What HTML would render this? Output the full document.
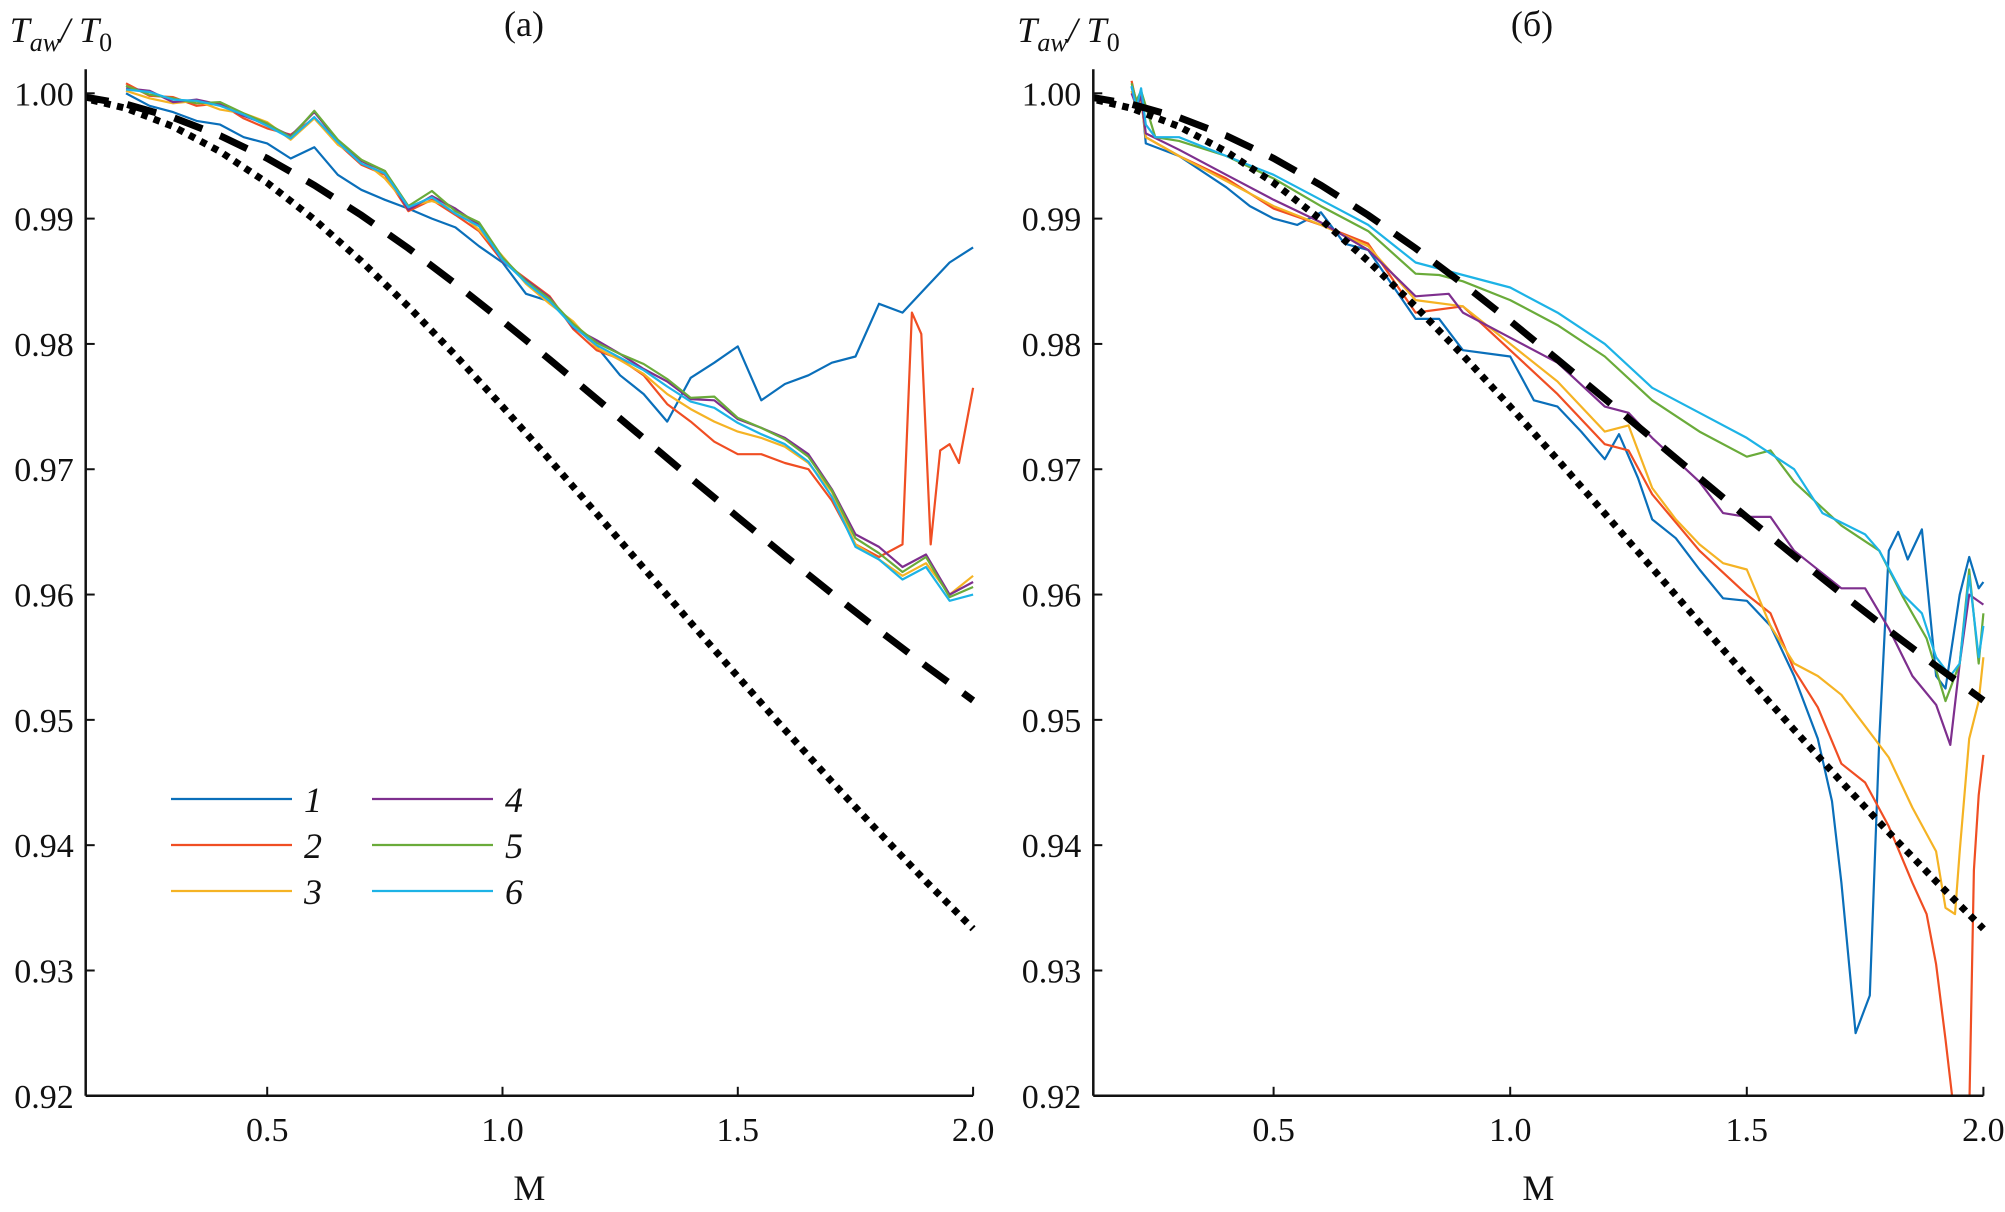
<!DOCTYPE html>
<html><head><meta charset="utf-8"><style>
html,body{margin:0;padding:0;background:#fff;}
svg{display:block;font-family:"Liberation Serif",serif;}
svg text{font-family:"Liberation Serif",serif;fill:#111;}
</style></head><body>
<svg id="chart" width="2005" height="1212" viewBox="0 0 2005 1212" font-family="Liberation Serif, serif" xmlns="http://www.w3.org/2000/svg"></svg>
<script>
// ---------- data ----------
const yTicks = [1.00,0.99,0.98,0.97,0.96,0.95,0.94,0.93,0.92];
const yTickLabels = ["1.00","0.99","0.98","0.97","0.96","0.95","0.94","0.93","0.92"];
const xTicks = [0.5,1.0,1.5,2.0];
const xTickLabels = ["0.5","1.0","1.5","2.0"];
const seriesNames = ["1","2","3","4","5","6"];
const seriesColors = ["#0a6fba","#f04e23","#f5b324","#7e2f8e","#6aab3a","#1db3e6"];

const theoryM = [0.1,0.2,0.3,0.4,0.5,0.6,0.7,0.8,0.9,1.0,1.1,1.2,1.3,1.4,1.5,1.6,1.7,1.8,1.9,2.0];
const dottedVals = [0.9997,0.9988,0.99735,0.99535,0.99286,0.98993,0.98661,0.98298,0.97909,0.975,0.97077,0.96646,0.96211,0.95776,0.95345,0.94921,0.94506,0.94102,0.93711,0.93333];
const dashedVals = [0.99978,0.99913,0.99807,0.99662,0.99481,0.99267,0.99027,0.98763,0.9848,0.98183,0.97876,0.97562,0.97246,0.9693,0.96617,0.96309,0.96008,0.95714,0.9543,0.95155];

// panel (a)
const aM = [0.20,0.25,0.30,0.35,0.40,0.45,0.50,0.55,0.60,0.65,0.70,0.75,0.80,0.85,0.90,0.95,1.00,1.05,1.10,1.15,1.20,1.25,1.30,1.35,1.40,1.45,1.50,1.55,1.60,1.65,1.70,1.75,1.80,1.85,1.90,1.95,2.00];
const a1 = [1.0000,0.9990,0.9985,0.9978,0.9975,0.9965,0.9960,0.9948,0.9957,0.9935,0.9923,0.9915,0.9908,0.9900,0.9893,0.9878,0.9865,0.9840,0.9834,0.9815,0.9798,0.9775,0.9760,0.9738,0.9773,0.9785,0.9798,0.9755,0.9768,0.9775,0.9785,0.9790,0.9832,0.9825,0.9845,0.9865,0.9877];
const a2M = [0.20,0.25,0.30,0.35,0.40,0.45,0.50,0.55,0.60,0.65,0.70,0.75,0.80,0.85,0.90,0.95,1.00,1.05,1.10,1.15,1.20,1.25,1.30,1.35,1.40,1.45,1.50,1.55,1.60,1.65,1.70,1.75,1.80,1.85,1.87,1.89,1.91,1.93,1.95,1.97,2.00];
const a2 = [1.0008,0.9998,0.9997,0.9990,0.9992,0.9980,0.9972,0.9967,0.9980,0.9960,0.9943,0.9935,0.9906,0.9915,0.9903,0.9890,0.9866,0.9852,0.9838,0.9812,0.9795,0.9788,0.9775,0.9752,0.9738,0.9722,0.9712,0.9712,0.9705,0.9700,0.9675,0.9640,0.9630,0.9640,0.9825,0.9808,0.9640,0.9715,0.9720,0.9705,0.9765];
const a3 = [1.0002,0.9996,0.9992,0.9994,0.9987,0.9984,0.9977,0.9963,0.9980,0.9959,0.9947,0.9932,0.9910,0.9914,0.9908,0.9891,0.9870,0.9848,0.9832,0.9818,0.9797,0.9787,0.9776,0.9760,0.9748,0.9738,0.9730,0.9725,0.9718,0.9705,0.9682,0.9640,0.9628,0.9615,0.9625,0.9600,0.9615];
const a4 = [1.0004,1.0002,0.9993,0.9995,0.9991,0.9982,0.9975,0.9966,0.9985,0.9962,0.9946,0.9938,0.9907,0.9918,0.9908,0.9895,0.9866,0.9851,0.9837,0.9813,0.9803,0.9792,0.9780,0.9770,0.9756,0.9755,0.9740,0.9733,0.9725,0.9712,0.9684,0.9648,0.9638,0.9622,0.9632,0.9600,0.9610];
const a5 = [1.0006,0.9999,0.9996,0.9992,0.9993,0.9984,0.9976,0.9965,0.9986,0.9963,0.9947,0.9938,0.9910,0.9922,0.9906,0.9897,0.9869,0.9850,0.9836,0.9816,0.9801,0.9792,0.9784,0.9772,0.9757,0.9758,0.9741,0.9733,0.9724,0.9710,0.9683,0.9645,0.9633,0.9618,0.9630,0.9598,0.9606];
const a6 = [1.0003,1.0001,0.9995,0.9994,0.9990,0.9983,0.9974,0.9964,0.9981,0.9961,0.9944,0.9936,0.9909,0.9917,0.9904,0.9894,0.9867,0.9849,0.9834,0.9814,0.9799,0.9789,0.9779,0.9766,0.9754,0.9749,0.9737,0.9728,0.9720,0.9706,0.9678,0.9638,0.9628,0.9612,0.9622,0.9595,0.9600];

// panel (б)
const b1M = [0.20,0.21,0.22,0.23,0.30,0.40,0.45,0.50,0.55,0.60,0.65,0.70,0.80,0.85,0.90,1.00,1.05,1.10,1.15,1.20,1.23,1.27,1.30,1.35,1.40,1.45,1.50,1.55,1.60,1.65,1.68,1.70,1.73,1.76,1.78,1.80,1.82,1.84,1.87,1.90,1.92,1.95,1.97,1.99,2.00];
const b1 = [1.0005,0.9990,1.0000,0.9960,0.9950,0.9925,0.9910,0.9900,0.9895,0.9905,0.9880,0.9875,0.9820,0.9820,0.9795,0.9790,0.9755,0.9750,0.9730,0.9708,0.9728,0.9693,0.9660,0.9645,0.9620,0.9597,0.9595,0.9575,0.9535,0.9485,0.9435,0.9370,0.9250,0.9280,0.9485,0.9635,0.9650,0.9628,0.9652,0.9535,0.9525,0.9600,0.9630,0.9605,0.9610];
const b2M = [0.20,0.21,0.22,0.23,0.30,0.40,0.50,0.60,0.70,0.80,0.90,1.00,1.10,1.20,1.25,1.30,1.40,1.50,1.55,1.60,1.65,1.70,1.75,1.80,1.85,1.88,1.90,1.92,1.94,1.96,1.97,1.98,1.99,2.00];
const b2 = [1.0010,0.9992,0.9998,0.9965,0.9950,0.9932,0.9908,0.9895,0.9880,0.9825,0.9830,0.9795,0.9760,0.9720,0.9715,0.9680,0.9635,0.9600,0.9585,0.9540,0.9510,0.9465,0.9450,0.9415,0.9370,0.9345,0.9305,0.9245,0.9180,0.9150,0.9185,0.9380,0.9440,0.9472];
const b3M = [0.20,0.21,0.22,0.23,0.30,0.40,0.50,0.60,0.70,0.80,0.90,1.00,1.10,1.20,1.25,1.30,1.35,1.40,1.45,1.50,1.55,1.60,1.65,1.70,1.75,1.80,1.85,1.90,1.92,1.94,1.95,1.97,1.99,2.00];
const b3 = [1.0002,0.9988,0.9995,0.9965,0.9950,0.9930,0.9910,0.9895,0.9878,0.9835,0.9830,0.9800,0.9770,0.9730,0.9735,0.9685,0.9660,0.9640,0.9625,0.9620,0.9575,0.9545,0.9535,0.9520,0.9495,0.9470,0.9430,0.9395,0.9350,0.9345,0.9395,0.9485,0.9515,0.9550];
const b4M = [0.20,0.21,0.22,0.23,0.30,0.40,0.50,0.60,0.70,0.80,0.87,0.90,1.00,1.10,1.20,1.25,1.30,1.40,1.45,1.50,1.55,1.60,1.70,1.75,1.80,1.85,1.90,1.93,1.95,1.97,2.00];
const b4 = [1.0000,0.9990,0.9997,0.9968,0.9955,0.9935,0.9915,0.9897,0.9875,0.9838,0.9840,0.9825,0.9805,0.9785,0.9750,0.9745,0.9725,0.9690,0.9665,0.9662,0.9662,0.9635,0.9605,0.9605,0.9573,0.9535,0.9512,0.9480,0.9545,0.9600,0.9592];
const b5M = [0.20,0.21,0.22,0.25,0.30,0.40,0.50,0.60,0.70,0.80,0.85,0.90,1.00,1.10,1.20,1.30,1.40,1.50,1.55,1.60,1.70,1.78,1.83,1.88,1.92,1.95,1.97,1.99,2.00];
const b5 = [1.0008,0.9994,1.0002,0.9965,0.9962,0.9950,0.9932,0.9910,0.9890,0.9856,0.9855,0.9850,0.9835,0.9815,0.9790,0.9755,0.9730,0.9710,0.9715,0.9690,0.9655,0.9635,0.9598,0.9565,0.9515,0.9545,0.9620,0.9545,0.9585];
const b6M = [0.20,0.21,0.22,0.23,0.25,0.30,0.40,0.50,0.60,0.70,0.80,0.90,1.00,1.10,1.20,1.30,1.40,1.50,1.60,1.66,1.75,1.78,1.83,1.87,1.90,1.93,1.95,1.97,1.99,2.00];
const b6 = [1.0006,0.9988,1.0004,0.9975,0.9965,0.9965,0.9950,0.9935,0.9915,0.9895,0.9865,0.9855,0.9845,0.9825,0.9800,0.9765,0.9745,0.9725,0.9700,0.9665,0.9648,0.9635,0.9600,0.9585,0.9550,0.9535,0.9545,0.9615,0.9550,0.9575];

// ---------- drawing ----------
const NS = "http://www.w3.org/2000/svg";
const svg = document.getElementById("chart");
const FONT = "Liberation Serif, serif";
const yTop = 93.3, yBot = 1095.8, yMin = 0.92, yMax = 1.00;
function yScale(v){ return yBot - (v - yMin) / (yMax - yMin) * (yBot - yTop); }
function mk(tag, attrs, parent){
  const e = document.createElementNS(NS, tag);
  for (const k in attrs) e.setAttribute(k, attrs[k]);
  if (tag === "text") e.setAttribute("font-family", FONT);
  (parent || svg).appendChild(e);
  return e;
}
function panel(cfg){
  const g = mk("g", {});
  
  
  const x0 = cfg.x05 - (cfg.x10 - cfg.x05);
  const pxPer = (cfg.x10 - cfg.x05) / 0.5;
  const xScale = m => x0 + m * pxPer;
  const clip = "clip-" + cfg.name;
  const cp = mk("clipPath", {id: clip}, g);
  mk("rect", {x: cfg.axisX, y: yTop - 30, width: xScale(2.0) - cfg.axisX + 4, height: yBot - yTop + 30}, cp);
  const plot = mk("g", {"clip-path": "url(#" + clip + ")"}, g);

  const yAxis = mk("line", {x1: cfg.axisX, x2: cfg.axisX, y1: yTop - 24, y2: yBot, stroke: "#111", "stroke-width": 2.5}, g);
  
  
  const xAxis = mk("line", {x1: cfg.axisX, x2: xScale(2.0), y1: yBot, y2: yBot, stroke: "#111", "stroke-width": 2.5}, g);
  
  
  yTicks.forEach((t, i) => {
    const y = yScale(t);
    const tk = mk("line", {x1: cfg.axisX, x2: cfg.axisX + 9, y1: y, y2: y, stroke: "#111", "stroke-width": 2}, g);
    
    
    const lb = mk("text", {x: cfg.axisX - 12, y: y + 12, "text-anchor": "end", "font-size": 34}, g);
    lb.textContent = yTickLabels[i];
    
    
  });
  xTicks.forEach((t, i) => {
    const x = xScale(t);
    const tk = mk("line", {x1: x, x2: x, y1: yBot, y2: yBot - 9, stroke: "#111", "stroke-width": 2}, g);
    
    
    const lb = mk("text", {x: x, y: yBot + 45, "text-anchor": "middle", "font-size": 34}, g);
    lb.textContent = xTickLabels[i];
    
    
  });
  const xt = mk("text", {x: (cfg.axisX + xScale(2.0)) / 2, y: 1200, "text-anchor": "middle", "font-size": 36}, g);
  xt.textContent = "M";
  
  
  const yt = mk("text", {x: cfg.axisX - 76, y: 42, "font-size": 36, "font-style": "italic"}, g);
  yt.innerHTML = 'T<tspan font-size="26" dy="9">aw</tspan><tspan dy="-9">/ T</tspan><tspan font-size="26" dy="9" font-style="normal">0</tspan>';
  
  
  const pt = mk("text", {x: cfg.titleX, y: 36, "text-anchor": "middle", "font-size": 36}, g);
  pt.textContent = cfg.title;
  
  

  const pathOf = (ms, vs) => ms.map((m, i) => (i ? "L" : "M") + xScale(m).toFixed(1) + " " + yScale(vs[i]).toFixed(1)).join(" ");
  cfg.series.forEach((s, i) => {
    const p = mk("path", {d: pathOf(s[0], s[1]), fill: "none", stroke: seriesColors[i], "stroke-width": 2.2, "stroke-linejoin": "round"}, plot);
    
    
  });
  const dl = mk("path", {d: pathOf(theoryM, dashedVals), fill: "none", stroke: "#000", "stroke-width": 7, "stroke-dasharray": "30 19"}, plot);
  
  
  const dt = mk("path", {d: pathOf(theoryM, dottedVals), fill: "none", stroke: "#000", "stroke-width": 7, "stroke-dasharray": "6.5 6.5"}, plot);
  
  
  return g;
}

panel({name: "panel-a", title: "(a)", titleX: 524, axisX: 85.7, x05: 267.2, x10: 502.5,
  series: [[aM, a1], [a2M, a2], [aM, a3], [aM, a4], [aM, a5], [aM, a6]]});
panel({name: "panel-b", title: "(б)", titleX: 1532, axisX: 1093.3, x05: 1273.6, x10: 1510.2,
  series: [[b1M, b1], [b2M, b2], [b3M, b3], [b4M, b4], [b5M, b5], [b6M, b6]]});

const lg = mk("g", {});


const legX = [171, 372], legY = [799, 845, 891];
seriesNames.forEach((n, i) => {
  const col = Math.floor(i / 3), row = i % 3;
  const e = mk("g", {}, lg);
  
  
  mk("line", {x1: legX[col], x2: legX[col] + 121, y1: legY[row], y2: legY[row], stroke: seriesColors[i], "stroke-width": 2.2}, e);
  const t = mk("text", {x: legX[col] + 133, y: legY[row] + 13, "font-size": 36, "font-style": "italic"}, e);
  t.textContent = n;
});
</script>
</body></html>
